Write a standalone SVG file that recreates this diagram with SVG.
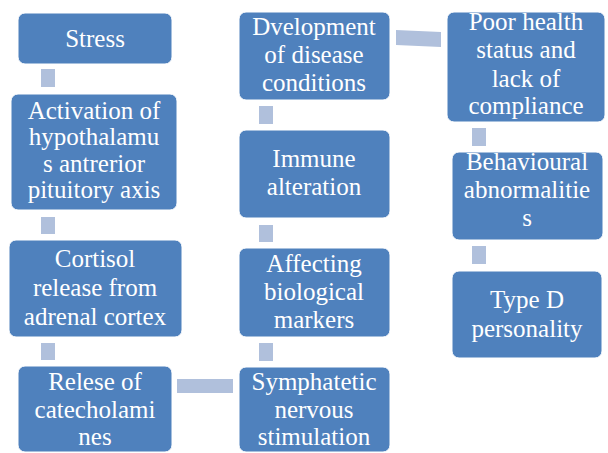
<svg xmlns="http://www.w3.org/2000/svg" width="608" height="453" viewBox="0 0 608 453">
<style>
.box{fill:#4F81BD;stroke:#ffffff;stroke-width:1}
.lbl{font-size:25px;fill:#ffffff;text-anchor:middle}
.con{fill:#B0C0DC}
</style>
<rect width="608" height="453" fill="#ffffff"/>
<g id="connectors">
<rect class="con" x="41" y="69" width="14" height="18"/>
<rect class="con" x="41" y="217" width="14" height="17"/>
<rect class="con" x="41" y="343" width="14" height="17"/>
<rect class="con" x="177" y="379" width="56" height="14"/>
<rect class="con" x="259" y="343" width="14" height="18"/>
<rect class="con" x="259" y="225" width="14" height="17"/>
<rect class="con" x="259" y="106" width="14" height="18"/>
<polygon class="con" points="396,30 441,32 441,47 396,45"/>
<rect class="con" x="472" y="128" width="14" height="18"/>
<rect class="con" x="472" y="246" width="14" height="18"/>
</g>
<g font-family="Liberation Serif, Times New Roman, DejaVu Serif, Noto Serif, serif">
<g id="stress">
<rect class="box" x="18" y="13" width="154" height="51" rx="7"/>
<text class="lbl" x="95" y="47">Stress</text>
</g>
<g id="activation">
<rect class="box" x="11" y="94" width="166" height="116" rx="7"/>
<text class="lbl" x="94" y="119">Activation of</text>
<text class="lbl" x="94" y="145">hypothalamu</text>
<text class="lbl" x="94" y="172">s antrerior</text>
<text class="lbl" x="94" y="198">pituitory axis</text>
</g>
<g id="cortisol">
<rect class="box" x="9" y="240" width="173" height="97" rx="7"/>
<text class="lbl" x="95" y="267">Cortisol</text>
<text class="lbl" x="95" y="296">release from</text>
<text class="lbl" x="95" y="325">adrenal cortex</text>
</g>
<g id="relese">
<rect class="box" x="18" y="366" width="154" height="86" rx="7"/>
<text class="lbl" x="95" y="390">Relese of</text>
<text class="lbl" x="95" y="418">catecholami</text>
<text class="lbl" x="95" y="445">nes</text>
</g>
<g id="symphatetic">
<rect class="box" x="239" y="367" width="151" height="85" rx="7"/>
<text class="lbl" x="314" y="390">Symphatetic</text>
<text class="lbl" x="314" y="418">nervous</text>
<text class="lbl" x="314" y="445">stimulation</text>
</g>
<g id="affecting">
<rect class="box" x="239" y="248" width="151" height="89" rx="7"/>
<text class="lbl" x="314" y="272">Affecting</text>
<text class="lbl" x="314" y="300">biological</text>
<text class="lbl" x="314" y="328">markers</text>
</g>
<g id="immune">
<rect class="box" x="239" y="130" width="151" height="88" rx="7"/>
<text class="lbl" x="314" y="167">Immune</text>
<text class="lbl" x="314" y="195">alteration</text>
</g>
<g id="development">
<rect class="box" x="239" y="12" width="151" height="88" rx="7"/>
<text class="lbl" x="314" y="35">Dvelopment</text>
<text class="lbl" x="314" y="63">of disease</text>
<text class="lbl" x="314" y="91">conditions</text>
</g>
<g id="poorhealth">
<rect class="box" x="447" y="12" width="158" height="110" rx="7"/>
<text class="lbl" x="526" y="30">Poor health</text>
<text class="lbl" x="526" y="58">status and</text>
<text class="lbl" x="526" y="87">lack of</text>
<text class="lbl" x="526" y="114">compliance</text>
</g>
<g id="behavioural">
<rect class="box" x="452" y="152" width="151" height="88" rx="7"/>
<text class="lbl" x="527" y="170">Behavioural</text>
<text class="lbl" x="527" y="198">abnormalitie</text>
<text class="lbl" x="527" y="226">s</text>
</g>
<g id="typed">
<rect class="box" x="452" y="271" width="150" height="87" rx="7"/>
<text class="lbl" x="527" y="308">Type D</text>
<text class="lbl" x="527" y="337">personality</text>
</g>
</g>
</svg>
